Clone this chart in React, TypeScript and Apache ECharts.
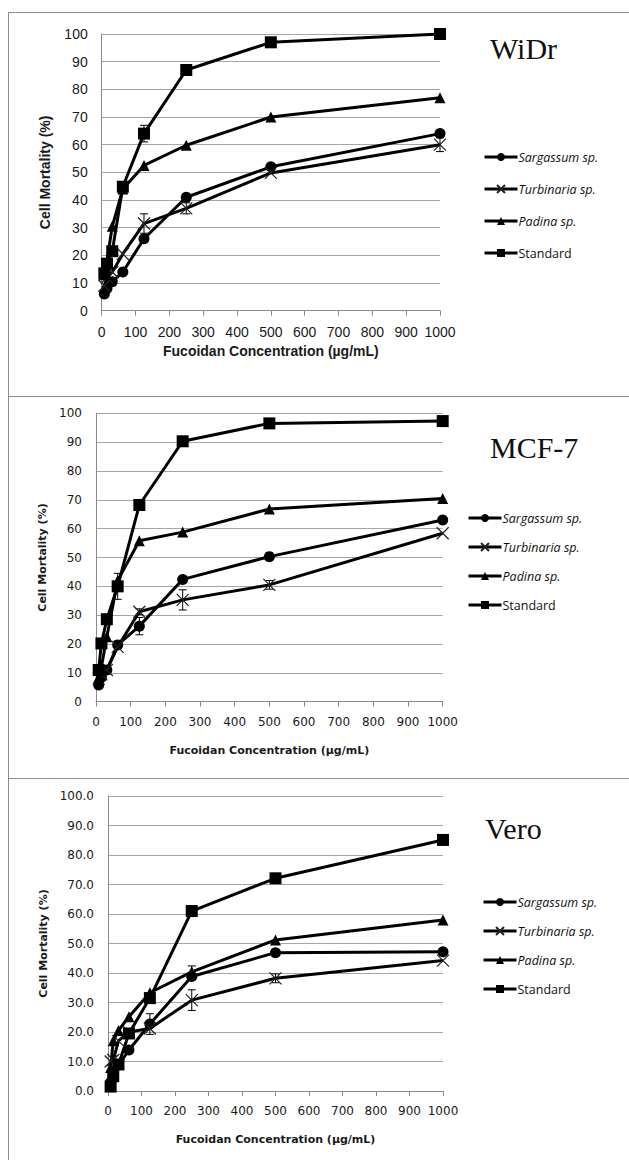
import React, { useEffect, useRef } from 'react';
import * as echarts from 'echarts';

// ---- data ----
const concentrations = [7.8125, 15.625, 31.25, 62.5, 125, 250, 500, 1000];
const seriesNames = ['Sargassum sp.', 'Turbinaria sp.', 'Padina sp.', 'Standard'];
const panelTitles = ['WiDr', 'MCF-7', 'Vero'];
const xAxisTitle = 'Fucoidan Concentration (µg/mL)';
const yAxisTitle = 'Cell Mortality (%)';

const widrSargassum = [6, 8, 10.5, 14, 26, 41, 52, 64];
const widrTurbinaria = [9, 12, 14, 20.5, 31.5, 37, 49.8, 60];
const widrPadina = [13, 18, 30.5, 44, 52.5, 59.8, 70, 77];
const widrStandard = [13.5, 17, 21.5, 44.8, 64, 87, 97, 100];

const mcfSargassum = [5.8, 8.5, 11, 19.7, 26.2, 42.4, 50.3, 63];
const mcfTurbinaria = [8, 9.5, 11, 19, 31.2, 35.3, 40.5, 58.4];
const mcfPadina = [8.5, 12, 22.5, 42, 55.8, 58.8, 66.8, 70.5];
const mcfStandard = [11, 20.2, 28.6, 40, 68.2, 90.3, 96.5, 97.3];

const veroSargassum = [3, 6, 8.8, 13.9, 22.7, 38.8, 46.9, 47.2];
const veroTurbinaria = [10, 10.5, 17, 20, 21.2, 30.8, 38.2, 44.2];
const veroPadina = [8, 17, 20.5, 25.2, 33.3, 40.4, 51.2, 58];
const veroStandard = [1.5, 5, 9, 19.5, 31.5, 61, 72.1, 85.1];

// error bar half-widths (0 = none drawn)
const widrSargassumErr = [0, 0, 0, 0, 0, 0, 0, 1];
const widrTurbinariaErr = [0, 0, 0, 0, 3.5, 2, 0, 2.5];
const widrPadinaErr = [0, 0, 0, 0, 0, 0, 0, 0];
const widrStandardErr = [0, 0, 0, 0, 3, 0, 0, 0];

const mcfSargassumErr = [0, 0, 0, 0, 3, 0, 0, 0];
const mcfTurbinariaErr = [0, 0, 0, 0, 1, 3.5, 1.5, 0];
const mcfPadinaErr = [0, 0, 0, 0, 0, 0, 0, 0];
const mcfStandardErr = [0, 0, 0, 4.5, 0, 0, 0, 0];

const veroSargassumErr = [0, 0, 0, 0, 3.5, 0, 0, 0];
const veroTurbinariaErr = [0, 0, 0, 0, 0, 3.5, 1.5, 0];
const veroPadinaErr = [0, 0, 0, 0, 0, 2, 0, 0];
const veroStandardErr = [0, 0, 0, 0, 0, 0, 0, 0];

const panelValues = [
  [widrSargassum, widrTurbinaria, widrPadina, widrStandard],
  [mcfSargassum, mcfTurbinaria, mcfPadina, mcfStandard],
  [veroSargassum, veroTurbinaria, veroPadina, veroStandard],
];
const panelErrors = [
  [widrSargassumErr, widrTurbinariaErr, widrPadinaErr, widrStandardErr],
  [mcfSargassumErr, mcfTurbinariaErr, mcfPadinaErr, mcfStandardErr],
  [veroSargassumErr, veroTurbinariaErr, veroPadinaErr, veroStandardErr],
];

// ---- layout / style ----
const grids = [
  { left: 101.7, top: 34, width: 338.3, height: 276.7 },
  { left: 96, top: 413.3, width: 346.7, height: 288.4 },
  { left: 108, top: 796, width: 335, height: 295 },
];
const labelFonts = [
  { fontFamily: 'Liberation Sans', fontSize: 14 },
  { fontFamily: 'DejaVu Sans', fontSize: 12 },
  { fontFamily: 'DejaVu Sans', fontSize: 12 },
];
const nameFonts = [
  { fontFamily: 'Liberation Sans', fontSize: 14 },
  { fontFamily: 'DejaVu Sans', fontSize: 11 },
  { fontFamily: 'DejaVu Sans', fontSize: 11 },
];
const xNameGaps = [33, 43, 43];
const yNameGaps = [50, 47, 57];
const titlePos = [
  { x: 490, y: 48 },
  { x: 490, y: 447 },
  { x: 485, y: 828 },
];
const legendPos = [
  { left: 483, top: 149, gap: 16 },
  { left: 467, top: 510, gap: 13 },
  { left: 482, top: 894, gap: 13 },
];
const symbols = ['circle', 'path://M0,0L10,10M10,0L0,10', 'triangle', 'rect'];
const symbolSizes = [11, 12, 11, 12];
const gray = '#8a8a8a';

export default function App() {
  const ref = useRef<HTMLDivElement>(null);
  useEffect(() => {
    if (!ref.current) return;
    const chart = echarts.init(ref.current, undefined, { renderer: 'svg' });

    const xAxes: any[] = [];
    const yAxes: any[] = [];
    const series: any[] = [];
    const legends: any[] = [];
    const graphics: any[] = [];

    grids.forEach((g, p) => {
      xAxes.push({
        type: 'value', gridIndex: p, min: 0, max: 1000, interval: 100,
        axisLine: { show: true, lineStyle: { color: gray, width: 1 } },
        axisTick: { show: true, length: 5, lineStyle: { color: gray } },
        splitLine: { show: false },
        axisLabel: { color: '#1a1a1a', margin: 14, ...labelFonts[p], formatter: (v: number) => String(v) },
        name: xAxisTitle, nameLocation: 'middle', nameGap: xNameGaps[p],
        nameTextStyle: { color: '#1a1a1a', fontWeight: 'bold', ...nameFonts[p] },
      });
      yAxes.push({
        type: 'value', gridIndex: p, min: 0, max: 100, interval: 10,
        axisLine: { show: true, lineStyle: { color: gray, width: 1 } },
        axisTick: { show: false },
        splitLine: { show: true, lineStyle: { color: '#a6a6a6', width: 1 } },
        axisLabel: {
          color: '#1a1a1a', margin: 14, ...labelFonts[p],
          formatter: p === 2 ? (v: number) => v.toFixed(1) : (v: number) => String(v),
        },
        name: yAxisTitle, nameLocation: 'middle', nameGap: yNameGaps[p], nameRotate: 90,
        nameTextStyle: { color: '#1a1a1a', fontWeight: 'bold', ...nameFonts[p] },
      });

      seriesNames.forEach((name, s) => {
        const vals = panelValues[p][s];
        const errs = panelErrors[p][s];
        const errData = concentrations
          .map((c, i) => [c, vals[i] - errs[i], vals[i] + errs[i], errs[i]])
          .filter((d) => d[3] > 0);
        if (errData.length) {
          series.push({
            type: 'custom', xAxisIndex: p, yAxisIndex: p, silent: true, z: 2,
            data: errData, encode: { x: 0, y: [1, 2] },
            renderItem: (_params: any, api: any) => {
              const x = api.value(0);
              const top = api.coord([x, api.value(2)]);
              const bot = api.coord([x, api.value(1)]);
              const w = 4;
              const st = { stroke: '#000', lineWidth: 1 };
              return {
                type: 'group',
                children: [
                  { type: 'line', shape: { x1: top[0], y1: top[1], x2: bot[0], y2: bot[1] }, style: st },
                  { type: 'line', shape: { x1: top[0] - w, y1: top[1], x2: top[0] + w, y2: top[1] }, style: st },
                  { type: 'line', shape: { x1: bot[0] - w, y1: bot[1], x2: bot[0] + w, y2: bot[1] }, style: st },
                ],
              };
            },
          });
        }
        const isCross = s === 1;
        series.push({
          type: 'line', name, xAxisIndex: p, yAxisIndex: p, z: 3,
          data: concentrations.map((c, i) => [c, vals[i]]),
          symbol: symbols[s], symbolSize: symbolSizes[s],
          lineStyle: { color: '#000', width: 3 },
          itemStyle: isCross
            ? { color: '#000', borderColor: '#222', borderWidth: 1.2 }
            : { color: '#000' },
        });
      });

      legends.push({
        orient: 'vertical', left: legendPos[p].left, top: legendPos[p].top,
        itemGap: legendPos[p].gap, itemWidth: 33, itemHeight: 10, padding: 0,
        selectedMode: false, data: seriesNames,
        lineStyle: { width: 3, color: '#000' },
        formatter: (n: string) => (n === 'Standard' ? n : `{i|${n}}`),
        textStyle: {
          color: '#111', fontFamily: 'Open Sans', fontSize: 12.5, lineHeight: 16, padding: [0, 0, 0, -4],
          rich: { i: { fontStyle: 'italic', fontFamily: 'Open Sans', fontSize: 12.5, lineHeight: 16, color: '#111' } },
        },
      });

      graphics.push({
        type: 'text', x: titlePos[p].x, y: titlePos[p].y,
        style: { text: panelTitles[p], font: '30px "Liberation Serif"', fill: '#111', verticalAlign: 'middle' },
      });
    });

    const border = { stroke: '#8c8c8c', lineWidth: 1 };
    graphics.push(
      { type: 'line', shape: { x1: 8.5, y1: 12, x2: 8.5, y2: 1160 }, style: border },
      { type: 'line', shape: { x1: 8, y1: 12.5, x2: 629, y2: 12.5 }, style: border },
      { type: 'line', shape: { x1: 8, y1: 396.5, x2: 629, y2: 396.5 }, style: border },
      { type: 'line', shape: { x1: 8, y1: 778.5, x2: 629, y2: 778.5 }, style: border },
    );

    chart.setOption({
      animation: false,
      backgroundColor: '#fff',
      grid: grids.map((g) => ({ ...g, containLabel: false })),
      xAxis: xAxes,
      yAxis: yAxes,
      legend: legends,
      series,
      graphic: graphics,
    });
    return () => chart.dispose();
  }, []);

  return (
    <div
      ref={ref}
      style={{ position: 'absolute', left: 0, top: 0, width: 629, height: 1160, background: '#fff' }}
    />
  );
}
